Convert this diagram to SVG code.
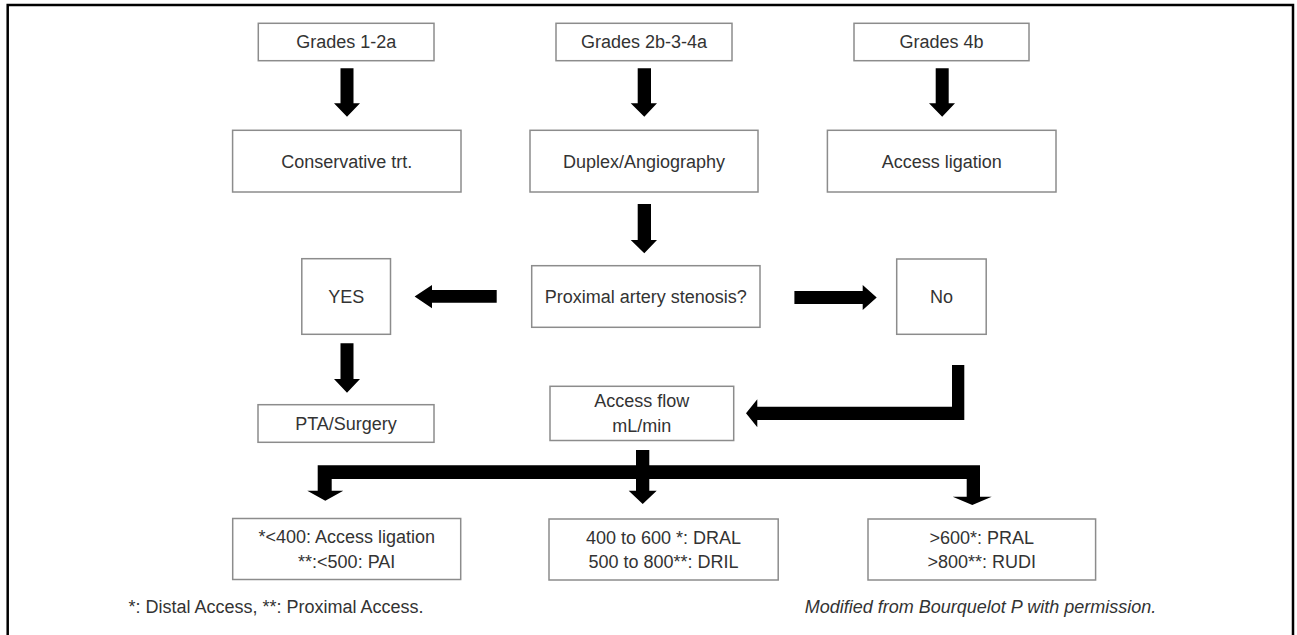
<svg xmlns="http://www.w3.org/2000/svg" width="1297" height="635" viewBox="0 0 1297 635">
<style>
.box{fill:#fff;stroke:#8c8c8c;stroke-width:1.5}
.t{font-family:"Liberation Sans",Arial,sans-serif;font-size:18px;fill:#333;text-anchor:middle}
.f{font-family:"Liberation Sans",Arial,sans-serif;font-size:18px;fill:#333}
.arr{fill:#000}
</style>
<rect x="0" y="0" width="1297" height="635" fill="#fff"/>
<path d="M7.7 640V5H1293V640" fill="none" stroke="#000" stroke-width="2.5"/>

<g id="connectors">
  <path class="arr" d="M340.5 68.3H353.5V103.3H360V103.3L347 116.7L334 103.3H340.5Z"/>
  <path class="arr" d="M637.7 68.3H651V103.3H657L644.3 116.7L630.7 103.3H637.7Z"/>
  <path class="arr" d="M935.7 68.3H948.7V103.3H955L942.2 116.7L929 103.3H935.7Z"/>
  <path class="arr" d="M637.7 204H651V240H657L644.3 253.3L630.7 240H637.7Z"/>
  <path class="arr" d="M496.7 290H432V285L414.6 296.5L432 308.3V302.7H496.7Z"/>
  <path class="arr" d="M794.4 291H862.7V285L876.7 297.5L862.7 310V304H794.4Z"/>
  <path class="arr" d="M340.5 343.3H353.5V379H360L347 392.7L334 379H340.5Z"/>
  <path class="arr" d="M952 365H964.3V420H757.3V427.3L746 413.3L757.3 399.3V406.7H952Z"/>
  <path class="arr" d="M636 450H649.3V490.7H656.7L642.7 504L628.7 490.7H636Z"/>
  <path class="arr" d="M317.7 465.3H980V496.7H991.7L972.3 505L952.7 496.7H966.7V479H331.7V490.7H343.3L325.3 500.7L307.3 490.7H317.7Z"/>
</g>

<g id="grades12"><rect class="box" x="258.3" y="23.3" width="175.7" height="37.4"/><text class="t" x="346.2" y="48.3">Grades 1-2a</text></g>
<g id="grades2b"><rect class="box" x="556" y="23.3" width="176" height="37.4"/><text class="t" x="644" y="48.3">Grades 2b-3-4a</text></g>
<g id="grades4b"><rect class="box" x="854" y="23.3" width="175" height="37.4"/><text class="t" x="941.5" y="48.3">Grades 4b</text></g>

<g id="conservative"><rect class="box" x="232.6" y="130.3" width="228.4" height="61.7"/><text class="t" x="346.8" y="167.7">Conservative trt.</text></g>
<g id="duplex"><rect class="box" x="530" y="130.3" width="228" height="61.7"/><text class="t" x="644" y="167.7">Duplex/Angiography</text></g>
<g id="ligation"><rect class="box" x="827.4" y="130.3" width="228.6" height="61.7"/><text class="t" x="941.7" y="167.7">Access ligation</text></g>

<g id="yes"><rect class="box" x="301.8" y="258.7" width="88.7" height="75.6"/><text class="t" x="346.2" y="303.3">YES</text></g>
<g id="proximal"><rect class="box" x="531.7" y="265.7" width="228.3" height="61.6"/><text class="t" x="645.8" y="303.3">Proximal artery stenosis?</text></g>
<g id="no"><rect class="box" x="896.7" y="259" width="89.5" height="75.3"/><text class="t" x="941.5" y="303.3">No</text></g>

<g id="pta"><rect class="box" x="258" y="404.7" width="176" height="37.6"/><text class="t" x="346" y="429.5">PTA/Surgery</text></g>
<g id="flow"><rect class="box" x="550" y="386.3" width="183.7" height="54.2"/><text class="t" x="641.8" y="407.3">Access flow</text><text class="t" x="641.8" y="432.3">mL/min</text></g>

<g id="low"><rect class="box" x="232.7" y="518.5" width="228" height="61"/><text class="t" x="346.7" y="543">*&lt;400: Access ligation</text><text class="t" x="346.7" y="568">**:&lt;500: PAI</text></g>
<g id="mid"><rect class="box" x="549" y="519" width="229.2" height="61"/><text class="t" x="663.6" y="543.5">400 to 600 *: DRAL</text><text class="t" x="663.6" y="568.3">500 to 800**: DRIL</text></g>
<g id="high"><rect class="box" x="868" y="519" width="227.6" height="61"/><text class="t" x="981.8" y="543.5">&gt;600*: PRAL</text><text class="t" x="981.8" y="568.3">&gt;800**: RUDI</text></g>

<text class="f" x="128.5" y="613">*: Distal Access, **: Proximal Access.</text>
<text class="f" x="804.7" y="613" font-style="italic">Modified from Bourquelot P with permission.</text>
</svg>
